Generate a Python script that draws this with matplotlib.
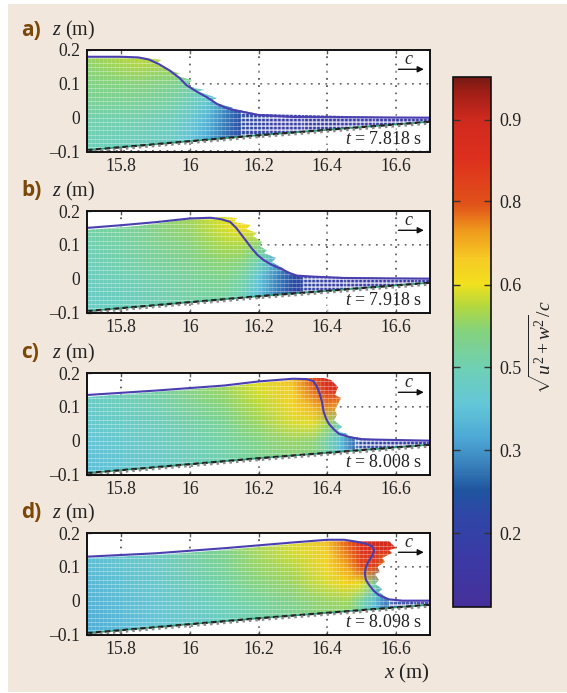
import numpy as np
import matplotlib
matplotlib.use("Agg")
import matplotlib.pyplot as plt
from matplotlib.colors import LinearSegmentedColormap
from matplotlib.patches import Polygon, Rectangle
from matplotlib.cm import ScalarMappable
from matplotlib.colors import Normalize

W, H = 567, 693

plt.rcParams["font.family"] = ["Liberation Serif", "DejaVu Serif"]
plt.rcParams["mathtext.fontset"] = "custom"
plt.rcParams["mathtext.rm"] = "Liberation Serif"
plt.rcParams["mathtext.it"] = "Liberation Serif:italic"

# colorbar: position on the bar (0 bottom, 1 top) and its colour
bar_pos = [0, .10, .17, .22, .27, .32, .38, .45, .52, .57, .61, .66, .71, .76, .85, .92, .97, 1]
bar_col = ["#47309b", "#3a3ba6", "#2f46a6", "#1f559f", "#3a83bd", "#4da9d6", "#63c6d8", "#6fd0b4",
           "#84d27e", "#b5d83c", "#f2e11e", "#f6c825", "#ef9a1c", "#e0521a", "#dd2f1e", "#cf2a1e",
           "#a31f17", "#761a14"]
bar_ticks = [.139, .296, .452, .608, .766, .919]
bar_labels = ["0.2", "0.3", "0.5", "0.6", "0.8", "0.9"]

x_ticks = [15.8, 16, 16.2, 16.4, 16.6]
x_labels = ["15.8", "16", "16.2", "16.4", "16.6"]
z_ticks = [-0.1, 0, 0.1, 0.2]
z_labels = ["\u20130.1", "0", "0.1", "0.2"]

z_levels = [-0.1, -0.05, 0, 0.05, 0.1, 0.15, 0.2]
bed_x = [15.7, 16.2, 16.7]
bed_z = [-0.096, -0.052, -0.012]

# panel a
a_x = [15.7, 15.85, 15.95, 16.0, 16.05, 16.1, 16.15, 16.25, 16.7]
a_vals = [[.44, .43, .41, .38, .33, .26, .18, .12, .08],
          [.45, .44, .42, .38, .33, .26, .18, .12, .08],
          [.46, .46, .44, .40, .35, .27, .19, .12, .08],
          [.49, .49, .47, .44, .40, .30, .20, .12, .08],
          [.51, .52, .50, .47, .42, .33, .22, .12, .10],
          [.53, .56, .55, .52, .45, .35, .22, .12, .10],
          [.55, .58, .58, .55, .47, .35, .22, .12, .10]]
a_surf_x = [15.7, 15.8, 15.85, 15.88, 15.91, 15.94, 15.97, 15.99, 16.02, 16.05, 16.08, 16.11, 16.15, 16.2, 16.3, 16.7]
a_surf_z = [.18, .18, .178, .172, .158, .14, .117, .096, .077, .06, .04, .027, .018, .008, .002, 0]
a_front_x = [15.7, 15.85, 15.915, 15.90, 15.97, 15.95, 16.005, 15.99, 16.045, 16.02, 16.08, 16.06, 16.127, 16.11, 16.2, 16.7]
a_front_z = [.175, .178, .17, .16, .13, .125, .11, .095, .082, .078, .058, .05, .03, .028, .012, .0]
a_tail = 16.15

# panel b
b_x = [15.7, 15.85, 16.0, 16.1, 16.15, 16.2, 16.25, 16.3, 16.4, 16.7]
b_vals = [[.42, .44, .46, .46, .43, .37, .27, .18, .12, .08],
          [.42, .44, .47, .48, .45, .37, .27, .18, .12, .08],
          [.43, .45, .48, .50, .47, .38, .28, .19, .12, .08],
          [.44, .47, .50, .53, .52, .45, .33, .20, .12, .10],
          [.45, .48, .52, .56, .56, .52, .40, .22, .12, .10],
          [.47, .49, .54, .59, .62, .60, .50, .22, .12, .10],
          [.48, .50, .56, .60, .64, .63, .50, .22, .12, .10]]
b_surf_x = [15.7, 15.8, 15.9, 16.0, 16.06, 16.09, 16.117, 16.135, 16.15, 16.166, 16.18, 16.197, 16.215, 16.24, 16.264, 16.29, 16.312, 16.36, 16.45, 16.7]
b_surf_z = [.15, .158, .167, .178, .18, .176, .168, .15, .13, .109, .09, .07, .055, .04, .03, .017, .009, .006, .002, 0]
b_front_x = [15.7, 15.85, 16.0, 16.097, 16.137, 16.13, 16.177, 16.165, 16.195, 16.185, 16.21, 16.20, 16.225, 16.215, 16.25, 16.24, 16.275, 16.265, 16.312, 16.7]
b_front_z = [.145, .155, .175, .183, .178, .168, .158, .148, .135, .125, .108, .098, .085, .075, .06, .05, .03, .025, .009, 0]
b_tail = 16.33

# panel c
c_x = [15.7, 15.9, 16.1, 16.2, 16.3, 16.36, 16.4, 16.44, 16.5, 16.7]
c_vals = [[.37, .40, .45, .48, .51, .51, .46, .33, .16, .08],
          [.37, .41, .46, .49, .52, .51, .47, .36, .17, .08],
          [.38, .42, .47, .51, .54, .53, .46, .36, .18, .10],
          [.40, .43, .49, .54, .59, .60, .55, .42, .20, .10],
          [.41, .45, .52, .57, .63, .68, .72, .70, .50, .20],
          [.42, .47, .54, .59, .65, .74, .84, .85, .80, .20],
          [.43, .48, .56, .61, .68, .80, .88, .90, .85, .20]]
c_surf_x = [15.7, 15.9, 16.1, 16.2, 16.3, 16.34, 16.36, 16.37, 16.378, 16.385, 16.39, 16.397, 16.405, 16.42, 16.435, 16.465, 16.5, 16.7]
c_surf_z = [.135, .148, .163, .175, .183, .182, .176, .16, .14, .115, .085, .065, .05, .033, .02, .011, .004, 0]
c_front_x = [15.7, 15.9, 16.1, 16.2, 16.3, 16.35, 16.39, 16.41, 16.432, 16.424, 16.44, 16.424, 16.43, 16.42, 16.443, 16.43, 16.46, 16.45, 16.55, 16.7]
c_front_z = [.13, .143, .158, .17, .18, .185, .185, .18, .16, .135, .125, .09, .075, .06, .04, .03, .02, .015, .003, 0]
c_tail = 16.48

# panel d
d_x = [15.7, 15.9, 16.1, 16.3, 16.4, 16.46, 16.5, 16.54, 16.6, 16.7]
d_vals = [[.33, .38, .43, .49, .52, .50, .46, .36, .16, .08],
          [.33, .38, .43, .49, .52, .52, .46, .36, .17, .08],
          [.34, .39, .45, .51, .54, .55, .47, .36, .18, .10],
          [.35, .40, .47, .54, .59, .63, .60, .46, .20, .10],
          [.36, .41, .49, .57, .63, .70, .78, .80, .60, .20],
          [.37, .43, .50, .59, .65, .74, .84, .88, .88, .20],
          [.38, .44, .51, .60, .68, .78, .88, .92, .92, .20]]
d_surf_x = [15.7, 15.9, 16.1, 16.3, 16.4, 16.45, 16.487, 16.515, 16.532, 16.537, 16.53, 16.52, 16.512, 16.51, 16.513, 16.52, 16.535, 16.55, 16.58, 16.62, 16.7]
d_surf_z = [.13, .14, .155, .172, .18, .18, .174, .168, .16, .148, .13, .115, .095, .08, .062, .05, .03, .017, .004, 0, 0]
d_front_x = [15.7, 15.9, 16.1, 16.3, 16.4, 16.487, 16.535, 16.58, 16.6, 16.58, 16.59, 16.56, 16.57, 16.545, 16.555, 16.54, 16.55, 16.54, 16.56, 16.55, 16.58, 16.7]
d_front_z = [.125, .135, .15, .167, .175, .175, .175, .175, .155, .15, .14, .125, .115, .10, .085, .08, .06, .05, .035, .025, .002, 0]
d_tail = 16.58

panels = [("a)", "7.818 s", a_x, a_vals, a_surf_x, a_surf_z, a_front_x, a_front_z, a_tail, 50),
          ("b)", "7.918 s", b_x, b_vals, b_surf_x, b_surf_z, b_front_x, b_front_z, b_tail, 211),
          ("c)", "8.008 s", c_x, c_vals, c_surf_x, c_surf_z, c_front_x, c_front_z, c_tail, 373),
          ("d)", "8.098 s", d_x, d_vals, d_surf_x, d_surf_z, d_front_x, d_front_z, d_tail, 533)]

cmap = LinearSegmentedColormap.from_list("bar", list(zip(bar_pos, bar_col)))
norm = Normalize(0, 1)


def add_box(left, top, right, bottom):
    return fig.add_axes([left / W, 1 - bottom / H, (right - left) / W, (bottom - top) / H])


fig = plt.figure(figsize=(W / 100, H / 100), dpi=100, facecolor="white")
fig.patches.append(Rectangle((8 / W, 1 - 692 / H), (W - 8) / W, 688 / H, transform=fig.transFigure,
                             facecolor="#f1e7dd", edgecolor="none", zorder=-10))

for letter, t_label, xs, vals, sx, sz, fx, fz, tail, top in panels:
    ax = add_box(87, top, 430, top + 101.5)
    ax.set_xlim(15.7, 16.7)
    ax.set_ylim(-0.1, 0.2)

    # coloured field, cut to the water body
    mesh = ax.pcolormesh(xs, z_levels, vals, cmap=cmap, norm=norm, shading="gouraud", zorder=1)
    outline = list(zip(fx, fz)) + [(bed_x[2], bed_z[2]), (bed_x[1], bed_z[1]), (bed_x[0], bed_z[0])]
    body = Polygon(outline, closed=True, transform=ax.transData, facecolor="none", edgecolor="none")
    ax.add_patch(body)
    mesh.set_clip_path(body)

    # white gaps between the velocity arrows
    ax.hlines(np.arange(-0.1, 0.2, 0.0125), 15.7, 16.7, color="white", lw=0.7, alpha=0.35, zorder=2)
    ax.vlines(np.arange(15.7, 16.7, 0.0115), -0.1, 0.2, color="white", lw=0.5, alpha=0.2, zorder=2)
    ax.hlines(np.arange(-0.1, 0.02, 0.0125), tail, 16.7, color="white", lw=1.2, alpha=0.6, zorder=2)
    ax.vlines(np.arange(tail, 16.7, 0.0115), -0.1, 0.02, color="white", lw=1.0, alpha=0.6, zorder=2)

    ax.set_xticks(x_ticks, x_labels)
    ax.set_yticks(z_ticks, z_labels)
    ax.grid(True, color="#555555", lw=1.3, ls=(0, (1, 3)), zorder=0.5)
    ax.set_axisbelow(True)
    ax.tick_params(direction="in", length=3, width=1, color="#555555", labelsize=12.7,
                   labelcolor="#222222", top=True, right=False, pad=5)
    for spine in ax.spines.values():
        spine.set_linewidth(1.4)
        spine.set_color("#111111")
        spine.set_zorder(8)

    # bed and surface
    ax.plot(bed_x, bed_z, color="#2aa07a", lw=1.2, zorder=4)
    ax.plot(bed_x, bed_z, color="#222222", lw=1.6, ls=(0, (2.5, 1.5)), zorder=4)
    ax.plot(bed_x, [b - 0.005 for b in bed_z], color="#8a8a8a", lw=1.8, ls=(0, (1, 1.6)), zorder=4)
    ax.plot(sx, sz, color="#4a3fb0", lw=1.5, zorder=5, solid_capstyle="round", solid_joinstyle="round")

    ax.text(0.976, 0.123, "$t$ = " + t_label, transform=ax.transAxes, ha="right", va="center",
            fontsize=12.9, color="#222222", zorder=6)
    ax.text(0.938, 0.905, "$c$", transform=ax.transAxes, ha="center", va="center",
            fontsize=13, color="#222222", zorder=6)
    ax.annotate("", xy=(0.982, 0.81), xytext=(0.908, 0.81), xycoords="axes fraction",
                arrowprops=dict(arrowstyle="-|>", color="#111111", lw=1, mutation_scale=9, shrinkA=0, shrinkB=0),
                zorder=6)

    fig.text(21 / W, 1 - (top - 20) / H, letter, family=["Open Sans", "DejaVu Sans"], weight="bold",
             fontsize=15, color="#7a4708", ha="left", va="center")
    fig.text(52 / W, 1 - (top - 20) / H, "$z$ (m)", fontsize=14.5, color="#222222", ha="left", va="center")

fig.text(430 / W, 1 - 673 / H, "$x$ (m)", fontsize=15, color="#222222", ha="right", va="center")

# colorbar
cax = add_box(453, 77, 491, 607)
cb = fig.colorbar(ScalarMappable(norm=norm, cmap=cmap), cax=cax)
cb.set_ticks(bar_ticks, labels=bar_labels)
cax.tick_params(direction="in", length=5, width=1, left=True, right=True, color="#333333",
                labelsize=13, labelcolor="#222222", pad=6)
cb.outline.set_linewidth(1.2)
cb.outline.set_edgecolor("#111111")
fig.text(542 / W, 1 - 347 / H, r"$\sqrt{u^2 + w^2}/c$", rotation=90, fontsize=14, color="#222222",
         ha="center", va="center")

fig.savefig("out.png", dpi=100)
